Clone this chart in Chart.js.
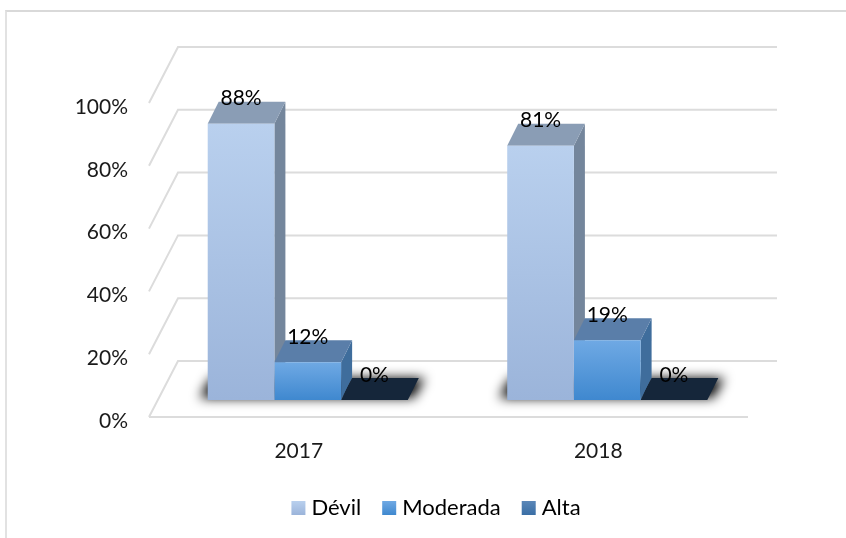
<!DOCTYPE html>
<html>
<head>
<meta charset="utf-8">
<style>
  body { margin: 0; background: #fff; }
  #frame { position: absolute; left: 5px; top: 10px; width: 841px; height: 528px; border-left: 2px solid #e2e2e2; border-top: 2px solid #d9d9d9; box-sizing: border-box; }
  canvas { position: absolute; left: 0; top: 0; }
</style>
<script src="https://cdn.jsdelivr.net/npm/chart.js@4"></script>
</head>
<body>
<div id="frame"></div>
<canvas id="grafik" width="846" height="538"></canvas>
<script>
const categories = ["2017", "2018"];
const seriesNames = ["Dévil", "Moderada", "Alta"];
const devil = [88, 81];
const moderada = [12, 19];
const alta = [0, 0];
const yTicks = [0, 20, 40, 60, 80, 100];

// colores de cada serie: frente arriba, frente abajo, tapa, lateral
const frontTop = ["#b9d0ee", "#6fa9e4", "#5b87b8"];
const frontBottom = ["#9bb4da", "#3f88cf", "#3a6ea5"];
const topColor = ["#8a9db5", "#5a7ea9", "#15263a"];
const sideColor = ["#74869c", "#3f6d9c", "#15263a"];

const font = "Lato";
const floorDx = 29, floorDy = -56; // profundidad del piso
const barDx = 9, barDy = -17;      // frente de la barra respecto al eje
const depthDx = 11, depthDy = -22; // profundidad de la barra
const legendShift = 62;

function poly(ctx, pts, color) {
  ctx.fillStyle = color;
  ctx.beginPath();
  pts.forEach((p, i) => (i ? ctx.lineTo(p[0], p[1]) : ctx.moveTo(p[0], p[1])));
  ctx.closePath();
  ctx.fill();
}

function makeGradient(ctx, top, bottom, i) {
  const g = ctx.createLinearGradient(0, top, 0, bottom);
  g.addColorStop(0, frontTop[i]);
  g.addColorStop(1, frontBottom[i]);
  return g;
}

function frontGradient(context) {
  const chart = context.chart;
  const y = chart.scales.y;
  if (!y || context.parsed === undefined) return frontTop[context.datasetIndex];
  return makeGradient(chart.ctx, y.getPixelForValue(context.parsed.y), y.getPixelForValue(0), context.datasetIndex);
}

const bars3d = {
  id: "bars3d",
  afterLayout(chart) {
    // la leyenda va centrada respecto al piso, no al lienzo
    chart.legend.left += legendShift;
    chart.legend.right += legendShift;
  },
  beforeDatasetsDraw(chart) {
    const ctx = chart.ctx, x = chart.scales.x, y = chart.scales.y;
    const y0 = y.getPixelForValue(0);
    ctx.save();
    ctx.strokeStyle = "#dcdcdc";
    ctx.lineWidth = 2;
    y.ticks.forEach((t) => {
      const py = y.getPixelForValue(t.value);
      ctx.beginPath();
      ctx.moveTo(x.left, py);
      ctx.lineTo(x.left + floorDx, py + floorDy);
      ctx.lineTo(x.right + floorDx, py + floorDy);
      ctx.stroke();
    });
    ctx.beginPath();
    ctx.moveTo(x.left, y0);
    ctx.lineTo(x.right, y0);
    ctx.stroke();

    // etiquetas del eje y, un poco por debajo de su linea
    ctx.font = "21px " + font;
    ctx.fillStyle = "#1a1a1a";
    ctx.textAlign = "right";
    ctx.textBaseline = "middle";
    y.ticks.forEach((t) => {
      ctx.fillText(t.value + "%", 128, y.getPixelForValue(t.value) + 4);
    });

    // sombra difusa bajo cada grupo: la forma queda fuera del lienzo, solo se ve su sombra
    const first = chart.getDatasetMeta(0).data;
    const last = chart.getDatasetMeta(2).data;
    const by = y0 + barDy;
    const off = 2000;
    ctx.save();
    ctx.shadowColor = "#000";
    ctx.shadowBlur = 12;
    ctx.shadowOffsetX = off;
    first.forEach((b, i) => {
      const l = b.x - b.width / 2 + barDx - off;
      const r = last[i].x + last[i].width / 2 + barDx - off;
      poly(ctx, [[l - 8, by - 2], [r + 6, by - 2], [r + depthDx + 6, by + depthDy], [l + depthDx - 8, by + depthDy]], "#000");
    });
    ctx.restore();

    // lateral y tapa de cada barra; el frente lo dibuja la libreria
    chart.data.datasets.forEach((ds, i) => {
      chart.getDatasetMeta(i).data.forEach((b) => {
        const l = b.x - b.width / 2 + barDx, r = l + b.width, t = b.y + barDy;
        if (t < by) {
          poly(ctx, [[r, t], [r + depthDx, t + depthDy], [r + depthDx, by + depthDy], [r, by]], sideColor[i]);
        }
        poly(ctx, [[l, t], [r, t], [r + depthDx, t + depthDy], [l + depthDx, t + depthDy]], topColor[i]);
      });
    });
    ctx.restore();
  },
  beforeDatasetDraw(chart) {
    chart.ctx.save();
    chart.ctx.translate(barDx, barDy);
  },
  afterDatasetDraw(chart) {
    chart.ctx.restore();
  },
  afterDatasetsDraw(chart) {
    const ctx = chart.ctx;
    ctx.save();
    ctx.font = "21px " + font;
    ctx.fillStyle = "#000";
    ctx.textAlign = "center";
    ctx.textBaseline = "middle";
    chart.data.datasets.forEach((ds, i) => {
      chart.getDatasetMeta(i).data.forEach((b, j) => {
        ctx.fillText(ds.data[j] + "%", b.x + barDx, b.y + barDy - 25);
      });
    });
    ctx.restore();
  },
  afterDraw(chart) {
    // cuadros de la leyenda: mas anchos que la caja que deja la libreria
    const ctx = chart.ctx;
    chart.legend.legendHitBoxes.forEach((h, i) => {
      const top = h.top + (h.height - 14) / 2;
      ctx.fillStyle = makeGradient(ctx, top, top + 14, i);
      ctx.fillRect(h.left, top, 14, 14);
    });
  }
};

new Chart(document.getElementById("grafik"), {
  type: "bar",
  data: {
    labels: categories,
    datasets: [
      { label: seriesNames[0], data: devil },
      { label: seriesNames[1], data: moderada },
      { label: seriesNames[2], data: alta },
    ].map((d) => ({ ...d, backgroundColor: frontGradient, borderWidth: 0, clip: false, categoryPercentage: 0.668, barPercentage: 1 })),
  },
  options: {
    responsive: false,
    animation: false,
    layout: { padding: { left: 0, right: 98, top: 103, bottom: 9 } },
    scales: {
      x: {
        grid: { display: false },
        border: { display: false },
        ticks: { color: "#1a1a1a", font: { family: font, size: 21 }, padding: 14 },
        afterFit(scale) { scale.height = 59; },
      },
      y: {
        min: 0,
        max: 100,
        grid: { display: false },
        border: { display: false },
        afterBuildTicks(scale) { scale.ticks = yTicks.map((v) => ({ value: v })); },
        ticks: { display: false },
        afterFit(scale) { scale.width = 149; },
      },
    },
    plugins: {
      tooltip: { enabled: false },
      legend: {
        position: "bottom",
        labels: {
          font: { family: font, size: 22 },
          color: "#1a1a1a",
          boxWidth: 9,
          boxHeight: 14,
          padding: 21,
          generateLabels() {
            return seriesNames.map((name, i) => ({ text: name, fillStyle: "rgba(0,0,0,0)", strokeStyle: "rgba(0,0,0,0)", lineWidth: 0, datasetIndex: i }));
          },
        },
      },
    },
  },
  plugins: [bars3d],
});
</script>
</body>
</html>
